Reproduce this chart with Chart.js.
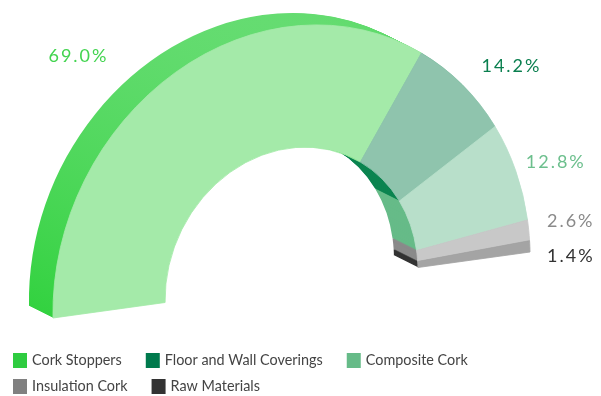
<!DOCTYPE html>
<html>
<head>
<meta charset="utf-8">
<script src="https://cdn.jsdelivr.net/npm/chart.js@4.4.1/dist/chart.umd.min.js"></script>
<style>
  html, body { margin: 0; padding: 0; background: #fff; }
  canvas { display: block; }
</style>
</head>
<body>
<canvas id="corkChart" width="601" height="396"></canvas>
<script>
const categories = ['Cork Stoppers', 'Floor and Wall Coverings', 'Composite Cork', 'Insulation Cork', 'Raw Materials'];
const shares = [69.0, 14.2, 12.8, 2.6, 1.4];

// top face / extruded side / legend swatch / value label
const faceColors = ['#a4eaa9', '#8fc4ad', '#b8dfca', '#c8c8c8', '#a4a4a4'];
const sideColors = ['#4fd75b', '#0b8450', '#66bb88', '#8a8a8a', '#333333'];
const legendColors = ['#2ecc40', '#007a4d', '#66bb88', '#808080', '#333333'];
const labelColors = ['#43d450', '#0a7f4f', '#6cbf8d', '#8a8a8a', '#333333'];

// fake 3d view: where the flat half ring lands on the page
const view = {
  cx: 291.5, cy: 285,
  ux: 238.5, uy: -33,   // right end of the diameter
  vx: -5, vy: -258,     // top of the ring
  depthX: -24, depthY: -12,
  steps: 24
};

function viewMatrix(arc) {
  const R = arc.outerRadius;
  const a = view.ux / R, b = view.uy / R, c = -view.vx / R, d = -view.vy / R;
  return [a, b, c, d, view.cx - a * arc.x - c * arc.y, view.cy - b * arc.x - d * arc.y];
}

function ringPath(ctx, arc) {
  ctx.beginPath();
  ctx.arc(arc.x, arc.y, arc.outerRadius, arc.startAngle, arc.endAngle);
  ctx.arc(arc.x, arc.y, arc.innerRadius, arc.endAngle, arc.startAngle, true);
  ctx.closePath();
}

function sideFill(ctx, arc, i) {
  if (i !== 0) return sideColors[i];
  // cork stoppers side gets lighter towards the top
  const g = ctx.createLinearGradient(arc.x, arc.y - arc.outerRadius, arc.x, arc.y);
  g.addColorStop(0, '#65dc71');
  g.addColorStop(1, '#33d240');
  return g;
}

const ring3d = {
  id: 'ring3d',
  beforeDatasetsDraw(chart) {
    const ctx = chart.ctx;
    const arcs = chart.getDatasetMeta(0).data;
    const m = viewMatrix(arcs[0]);
    ctx.save();
    for (let k = view.steps; k >= 1; k--) {
      ctx.save();
      ctx.translate(view.depthX * k / view.steps, view.depthY * k / view.steps);
      ctx.transform(...m);
      arcs.forEach((arc, i) => {
        ringPath(ctx, arc);
        ctx.fillStyle = sideFill(ctx, arc, i);
        ctx.fill();
      });
      ctx.restore();
    }
    ctx.transform(...m);
  },
  afterDatasetsDraw(chart) {
    const ctx = chart.ctx;
    ctx.restore();
    const arcs = chart.getDatasetMeta(0).data;
    const [a, b, c, d, e, f] = viewMatrix(arcs[0]);
    const nudge = [[-98, -16], [48, -19], [39, -9], [41, -9], [40, 10]];
    ctx.save();
    ctx.font = '18px Lato';
    ctx.letterSpacing = '2px';
    ctx.textAlign = 'center';
    ctx.textBaseline = 'middle';
    arcs.forEach((arc, i) => {
      const mid = (arc.startAngle + arc.endAngle) / 2;
      const lx = arc.x + arc.outerRadius * Math.cos(mid);
      const ly = arc.y + arc.outerRadius * Math.sin(mid);
      const x = a * lx + c * ly + e + nudge[i][0];
      const y = b * lx + d * ly + f + nudge[i][1];
      ctx.fillStyle = labelColors[i];
      ctx.fillText(shares[i].toFixed(1) + '%', x + 1, y);
    });
    ctx.restore();
  },
  afterDraw(chart) {
    // legend under the ring
    const ctx = chart.ctx;
    ctx.save();
    ctx.font = '14.4px Lato';
    ctx.textBaseline = 'middle';
    let x = 13, y = 360.5;
    categories.forEach((name, i) => {
      const w = 19 + ctx.measureText(name).width;
      if (x + w > chart.width - 10) { x = 13; y += 26; }
      ctx.fillStyle = legendColors[i];
      ctx.fillRect(x, y - 7.5, 14, 15);
      ctx.fillStyle = '#444';
      ctx.fillText(name, x + 19, y);
      x += w + 24;
    });
    ctx.restore();
  }
};

new Chart(document.getElementById('corkChart'), {
  type: 'doughnut',
  data: {
    labels: categories,
    datasets: [{
      data: shares,
      backgroundColor: faceColors,
      borderColor: faceColors,
      borderWidth: 1,
      clip: false
    }]
  },
  options: {
    responsive: false,
    animation: false,
    rotation: -90,
    circumference: 180,
    cutout: '53%',
    plugins: {
      legend: { display: false },
      tooltip: { enabled: false }
    }
  },
  plugins: [ring3d]
});
</script>
</body>
</html>
